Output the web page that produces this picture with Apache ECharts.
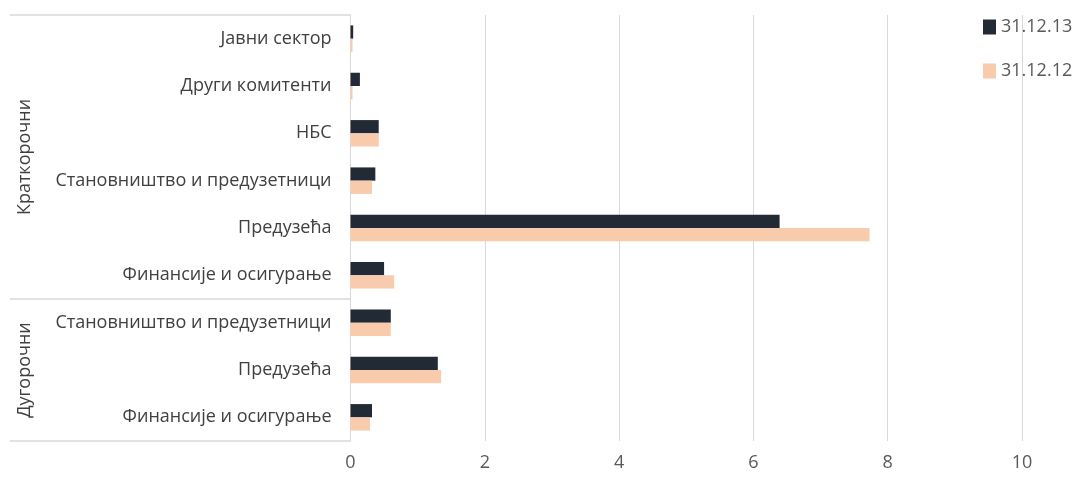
<!DOCTYPE html>
<html><head><meta charset="utf-8">
<script src="https://cdn.jsdelivr.net/npm/echarts@6/dist/echarts.min.js"></script>
<style>html,body{margin:0;padding:0;background:#fff}#c{width:1077px;height:482px}</style>
</head><body><div id="c"></div>
<script>
const categories = ['Јавни сектор','Други комитенти','НБС','Становништво и предузетници','Предузећа','Финансије и осигурање','Становништво и предузетници','Предузећа','Финансије и осигурање'];
const groups = [{name:'Краткорочни', from:0, to:5},{name:'Дугорочни', from:6, to:8}];
const seriesNames = ['31.12.13','31.12.12'];
const values2013 = [0.04,0.14,0.42,0.37,6.39,0.50,0.60,1.30,0.32];
const values2012 = [0.03,0.03,0.42,0.32,7.73,0.65,0.60,1.35,0.29];
const xTicks = [0,2,4,6,8,10];

const FONT = '"Open Sans", sans-serif';
const chart = echarts.init(document.getElementById('c'));
chart.setOption({
  animation:false,
  grid:{left:350.5,right:55,top:15,bottom:41},
  legend:{orient:'vertical',left:983,top:18,padding:0,itemWidth:13,itemHeight:15,itemGap:26,
    icon:'rect',textStyle:{color:'#595959',fontSize:18,lineHeight:15,fontFamily:FONT,padding:[0,0,0,0]},
    data:seriesNames},
  xAxis:{type:'value',min:xTicks[0],max:xTicks[xTicks.length-1],interval:2,
    axisLine:{show:false},axisTick:{show:false},
    axisLabel:{color:'#595959',fontSize:18,fontFamily:FONT,margin:13},
    splitLine:{lineStyle:{color:'#d9d9d9',width:1}}},
  yAxis:{type:'category',inverse:true,data:categories,
    axisLine:{lineStyle:{color:'#d9d9d9'}},axisTick:{show:false},
    axisLabel:{color:'#404040',fontSize:18,fontFamily:FONT,margin:19}},
  series:[
    {name:seriesNames[0],type:'bar',data:values2013,barGap:'0%',barCategoryGap:'44%',
      itemStyle:{color:'#222a35'}},
    {name:seriesNames[1],type:'bar',data:values2012,barGap:'0%',barCategoryGap:'44%',
      itemStyle:{color:'#f8cbad'}}
  ]
});
// Group brackets and labels derived from axis
const p0 = chart.convertToPixel({yAxisIndex:0},0);
const p1 = chart.convertToPixel({yAxisIndex:0},1);
const band = p1 - p0;
const axisX = chart.convertToPixel({xAxisIndex:0},0);
const els = [];
const lineStyle = {stroke:'#d9d9d9',lineWidth:1.5};
groups.forEach((g,i)=>{
  const yTop = chart.convertToPixel({yAxisIndex:0},g.from) - band/2;
  const yBot = chart.convertToPixel({yAxisIndex:0},g.to) + band/2;
  if(i===0) els.push({type:'line',shape:{x1:10,y1:yTop,x2:axisX,y2:yTop},style:lineStyle});
  els.push({type:'line',shape:{x1:10,y1:yBot,x2:axisX,y2:yBot},style:lineStyle});
  els.push({type:'text',x:25,y:(yTop+yBot)/2,rotation:Math.PI/2,
    style:{text:g.name,fill:'#404040',font:'18px '+FONT,align:'center',verticalAlign:'middle'}});
});
chart.setOption({graphic:els});
</script></body></html>
